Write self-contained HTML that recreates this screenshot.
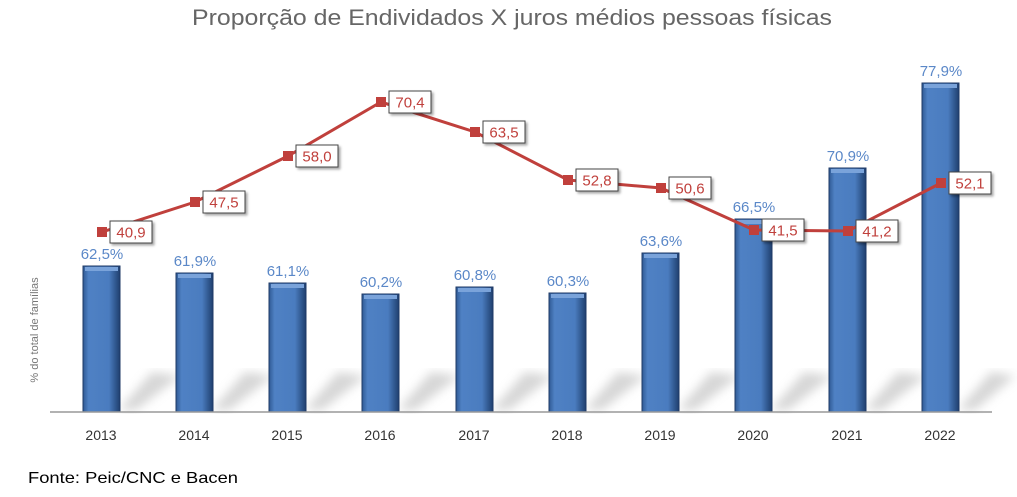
<!DOCTYPE html>
<html><head><meta charset="utf-8"><style>
body{margin:0;background:#fff;width:1017px;height:492px;overflow:hidden;font-family:"Liberation Sans",sans-serif}
</style></head><body>
<svg width="1017" height="492" xmlns="http://www.w3.org/2000/svg" font-family="Liberation Sans, sans-serif">
<defs>
<linearGradient id="bar" x1="0" x2="1" y1="0" y2="0">
<stop offset="0" stop-color="#2f5a94"/><stop offset="0.15" stop-color="#4f81c4"/><stop offset="0.7" stop-color="#4a7cbf"/><stop offset="1" stop-color="#1f3f6e"/></linearGradient>
<filter id="bl"><feGaussianBlur stdDeviation="5"/></filter>
<filter id="ds"><feDropShadow dx="2" dy="2" stdDeviation="1.2" flood-color="#000" flood-opacity="0.35"/></filter>
</defs>
<text x="512" y="25" text-anchor="middle" font-size="22" fill="#666" textLength="640" lengthAdjust="spacingAndGlyphs">Proporção de Endividados X juros médios pessoas físicas</text>
<text transform="translate(38,330) rotate(-90)" text-anchor="middle" font-size="11" fill="#777">% do total de famílias</text>
<g fill="#b5b5b5" opacity="0.55" filter="url(#bl)">
<polygon points="119,410 136,410 180,376 152,372"/>
<polygon points="212,410 229,410 273,376 245,372"/>
<polygon points="305,410 322,410 366,376 338,372"/>
<polygon points="398,410 415,410 459,376 431,372"/>
<polygon points="492,410 509,410 553,376 525,372"/>
<polygon points="585,410 602,410 646,376 618,372"/>
<polygon points="678,410 695,410 739,376 711,372"/>
<polygon points="771,410 788,410 832,376 804,372"/>
<polygon points="865,410 882,410 926,376 898,372"/>
<polygon points="958,410 975,410 1015,376 991,372"/>
</g>
<g fill="url(#bar)" stroke="#1f3a66" stroke-width="1">
<rect x="83" y="266" width="37" height="146"/>
<rect x="176" y="273" width="37" height="139"/>
<rect x="269" y="283" width="37" height="129"/>
<rect x="362" y="294" width="37" height="118"/>
<rect x="456" y="287" width="37" height="125"/>
<rect x="549" y="293" width="37" height="119"/>
<rect x="642" y="253" width="37" height="159"/>
<rect x="735" y="219" width="37" height="193"/>
<rect x="829" y="168" width="37" height="244"/>
<rect x="922" y="83" width="37" height="329"/>
</g>
<g fill="#7aa3da">
<rect x="85" y="267" width="33" height="4"/>
<rect x="178" y="274" width="33" height="4"/>
<rect x="271" y="284" width="33" height="4"/>
<rect x="364" y="295" width="33" height="4"/>
<rect x="458" y="288" width="33" height="4"/>
<rect x="551" y="294" width="33" height="4"/>
<rect x="644" y="254" width="33" height="4"/>
<rect x="737" y="220" width="33" height="4"/>
<rect x="831" y="169" width="33" height="4"/>
<rect x="924" y="84" width="33" height="4"/>
</g>
<g font-size="15" fill="#5b88c8" text-anchor="middle">
<text x="102" y="259">62,5%</text>
<text x="195" y="266">61,9%</text>
<text x="288" y="276">61,1%</text>
<text x="381" y="287">60,2%</text>
<text x="475" y="280">60,8%</text>
<text x="568" y="286">60,3%</text>
<text x="661" y="246">63,6%</text>
<text x="754" y="212">66,5%</text>
<text x="848" y="161">70,9%</text>
<text x="941" y="76">77,9%</text>
</g>
<line x1="50" y1="412" x2="992" y2="412" stroke="#999" stroke-width="1.5"/>
<polyline points="102,232 195,202 288,156 381,102 475,132 568,180 661,188 754,230 848,231 941,183" fill="none" stroke="#c0403c" stroke-width="3"/>
<g fill="#c0403c">
<rect x="97" y="227" width="10" height="10"/><rect x="190" y="197" width="10" height="10"/><rect x="283" y="151" width="10" height="10"/><rect x="376" y="97" width="10" height="10"/><rect x="470" y="127" width="10" height="10"/><rect x="563" y="175" width="10" height="10"/><rect x="656" y="183" width="10" height="10"/><rect x="749" y="225" width="10" height="10"/><rect x="843" y="226" width="10" height="10"/><rect x="936" y="178" width="10" height="10"/>
</g>
<g fill="#fff" stroke="#444" stroke-width="1" filter="url(#ds)">
<rect x="110" y="221" width="42" height="22"/><rect x="203" y="191" width="42" height="22"/><rect x="296" y="145" width="42" height="22"/><rect x="389" y="91" width="42" height="22"/><rect x="483" y="121" width="42" height="22"/><rect x="576" y="169" width="42" height="22"/><rect x="669" y="177" width="42" height="22"/><rect x="762" y="219" width="42" height="22"/><rect x="856" y="220" width="42" height="22"/><rect x="949" y="172" width="42" height="22"/>
</g>
<g font-size="15" fill="#c0403c" text-anchor="middle">
<text x="131" y="237.5">40,9</text><text x="224" y="207.5">47,5</text><text x="317" y="161.5">58,0</text><text x="410" y="107.5">70,4</text><text x="504" y="137.5">63,5</text><text x="597" y="185.5">52,8</text><text x="690" y="193.5">50,6</text><text x="783" y="235.5">41,5</text><text x="877" y="236.5">41,2</text><text x="970" y="188.5">52,1</text>
</g>
<g font-size="14" fill="#333" text-anchor="middle">
<text x="101" y="440">2013</text><text x="194" y="440">2014</text><text x="287" y="440">2015</text><text x="380" y="440">2016</text><text x="474" y="440">2017</text><text x="567" y="440">2018</text><text x="660" y="440">2019</text><text x="753" y="440">2020</text><text x="847" y="440">2021</text><text x="940" y="440">2022</text>
</g>
<text x="28" y="483" font-size="16" fill="#000" textLength="210" lengthAdjust="spacingAndGlyphs">Fonte: Peic/CNC e Bacen</text>
</svg>
</body></html>
